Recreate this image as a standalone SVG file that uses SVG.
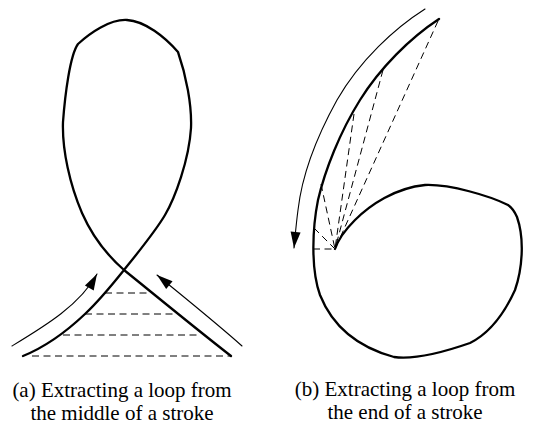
<svg xmlns="http://www.w3.org/2000/svg" width="534" height="429" viewBox="0 0 534 429">
<style>
.thick{fill:none;stroke:#000;stroke-width:2.3;stroke-linejoin:round;stroke-linecap:round}
.thin{fill:none;stroke:#000;stroke-width:1.1;stroke-linecap:round}
.dash{fill:none;stroke:#000;stroke-width:1;stroke-dasharray:7,4.5}
text.cap{font-family:"Liberation Serif","Times New Roman",Times,serif;font-size:21px;fill:#000;text-anchor:middle}
</style>
<defs>
<marker id="ah" viewBox="-17 -6 18 12" markerWidth="18" markerHeight="12" refX="0" refY="0" orient="auto" markerUnits="userSpaceOnUse">
<path d="M0,0 L-16,-5 L-16,5 Z" fill="#000"/>
</marker>
</defs>
<rect width="534" height="429" fill="#fff"/>
<g id="stroke-a">
<path class="thick" d="M23,356 C45,347 65,333 85,314 C100,300 112,285 124,270 C136,255 155,232 165,215 C175,198 189,160 191,128 C192,105 186,75 178,52 C165,37 145,21 127,20 C110,19 90,33 78,44 C70,55 65,95 63,122 C62,150 70,185 82,213 C93,238 108,256 124,270 C155,295 195,328 231,356"/>
</g>
<g id="dashes-a">
<line class="dash" x1="105" y1="293" x2="149" y2="293"/>
<line class="dash" x1="85" y1="314" x2="177" y2="314"/>
<line class="dash" x1="63" y1="335" x2="201" y2="335"/>
<line class="dash" x1="32" y1="356" x2="230" y2="356"/>
</g>
<g id="arrows-a">
<path class="thin" d="M12,346 C45,326 80,305 97,274" marker-end="url(#ah)"/>
<path class="thin" d="M242,346 C215,322 185,298 157,275" marker-end="url(#ah)"/>
</g>
<g id="stroke-b">
<path class="thick" d="M439,19 C410,38 380,68 360,100 C340,132 325,170 318,200 C312,230 311,270 320,295 C330,320 350,345 394,357 C416,360 450,350 470,343 C490,333 505,312 515,290 C522,270 525,240 517,217 C514,210 511,207 508,205 C490,196 450,184 425,185 C395,188 370,205 355,220 C345,230 338,240 335,249"/>
</g>
<g id="dashes-b">
<line class="dash" x1="438" y1="21" x2="335" y2="249"/>
<line class="dash" x1="383" y1="70" x2="335" y2="249"/>
<line class="dash" x1="354" y1="114" x2="335" y2="249"/>
<line class="dash" x1="321" y1="184" x2="335" y2="249"/>
<line class="dash" x1="314" y1="228" x2="335" y2="249"/>
<line class="dash" x1="313" y1="249" x2="335" y2="249"/>
</g>
<g id="arrow-b">
<path class="thin" d="M425,9 C395,28 360,60 337,100 C316,138 302,175 298,210 C296,225 295,238 294,248" marker-end="url(#ah)"/>
</g>
<g id="caption-a">
<text class="cap" x="122" y="397" style="font-family:'Liberation Serif',serif">(a) Extracting a loop from</text>
<text class="cap" x="122" y="420" style="font-family:'Liberation Serif',serif">the middle of a stroke</text>
</g>
<g id="caption-b">
<text class="cap" x="405" y="396" style="font-family:'Liberation Serif',serif">(b) Extracting a loop from</text>
<text class="cap" x="405" y="419" style="font-family:'Liberation Serif',serif">the end of a stroke</text>
</g>
</svg>
